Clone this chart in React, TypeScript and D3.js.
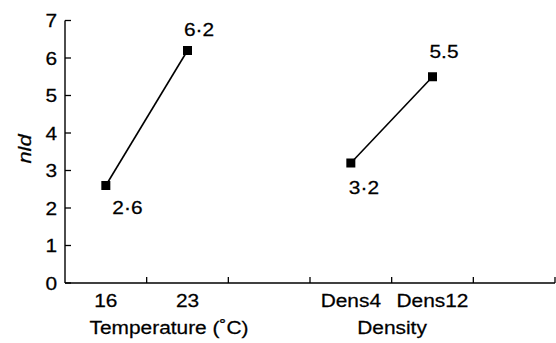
import React from 'react';
import * as d3 from 'd3';

// categories along the x axis (empty slots keep the gaps)
const categories = ['16', '23', 'gapA', 'Dens4', 'Dens12', 'gapB'];
const tickLabels = ['16', '23', '', 'Dens4', 'Dens12', ''];

const tempCats = ['16', '23'];
const tempValues = [2.6, 6.2];
const tempLabels = ['2·6', '6·2'];

const densCats = ['Dens4', 'Dens12'];
const densValues = [3.2, 5.5];
const densLabels = ['3·2', '5.5'];

const yTicks = [0, 1, 2, 3, 4, 5, 6, 7];

const W = 556;
const H = 343;
const FONT = '"Liberation Sans", Arial, Helvetica, sans-serif';
const FS = 18.5;
const SX = 1.13; // the source glyphs are a bit wider than Arial

// label offsets from the marker (dx, dy of baseline)
const tempOffsets = [[6.5, 28], [-3.5, -15]];
const densOffsets = [[-2, 31], [-3, -18.5]];

type TProps = { x: number; y: number; anchor?: string; children: React.ReactNode };

// text with a small horizontal stretch
const T = ({ x, y, anchor = 'start', children }: TProps) => (
  <text
    transform={`translate(${x},${y}) scale(${SX},1)`}
    textAnchor={anchor}
    fontSize={FS}
    fill="#000"
    stroke="#000"
    strokeWidth={0.25}
  >
    {children}
  </text>
);

const App: React.FC = () => {
  const x = d3.scaleBand<string>().domain(categories).range([65, 555]);
  const y = d3.scaleLinear().domain([0, 7]).range([283, 20.5]);
  const line = d3.line<[number, number]>().x(d => d[0]).y(d => d[1]);

  const series = [
    { cats: tempCats, vals: tempValues, labels: tempLabels, offs: tempOffsets },
    { cats: densCats, vals: densValues, labels: densLabels, offs: densOffsets },
  ];

  const bw = x.bandwidth();
  const boundaries = categories.map(c => (x(c) as number) + bw);

  return (
    <svg width={W} height={H} style={{ position: 'absolute', left: 0, top: 0, background: '#fff' }}
      fontFamily={FONT}>
      {/* y axis */}
      <line x1={65} x2={65} y1={y(7)} y2={y(0)} stroke="#000" strokeWidth={1.4} />
      {yTicks.map(t => (
        <g key={t}>
          <line x1={65} x2={71} y1={y(t)} y2={y(t)} stroke="#000" strokeWidth={1.3} />
          <T x={57} y={y(t) + 6.6} anchor="end">{t}</T>
        </g>
      ))}
      {/* x axis */}
      <line x1={65} x2={555} y1={y(0)} y2={y(0)} stroke="#000" strokeWidth={1.4} />
      {boundaries.map((bx, i) => (
        <line key={i} x1={bx} x2={bx} y1={y(0)} y2={y(0) - 6} stroke="#000" strokeWidth={1.3} />
      ))}
      {categories.map((c, i) => (
        <T key={c} x={(x(c) as number) + bw / 2} y={307} anchor="middle">{tickLabels[i]}</T>
      ))}
      <T x={169} y={334} anchor="middle">Temperature (˚C)</T>
      <T x={392} y={334} anchor="middle">Density</T>
      <text transform="translate(31,149) rotate(-90) scale(1.15,1)" textAnchor="middle" fontSize={19}
        fontStyle="italic" stroke="#000" strokeWidth={0.25}>nld</text>

      {series.map((s, si) => {
        const pts: [number, number][] = s.cats.map((c, i) => [
          (x(c) as number) + bw / 2, y(s.vals[i]),
        ]);
        return (
          <g key={si}>
            <path d={line(pts) || ''} fill="none" stroke="#000" strokeWidth={1.6} />
            {pts.map((p, i) => (
              <g key={i}>
                <rect x={p[0] - 4.5} y={p[1] - 4.5} width={9} height={9} fill="#000" />
                <T x={p[0] + s.offs[i][0]} y={p[1] + s.offs[i][1]}>{s.labels[i]}</T>
              </g>
            ))}
          </g>
        );
      })}
    </svg>
  );
};

export default App;
